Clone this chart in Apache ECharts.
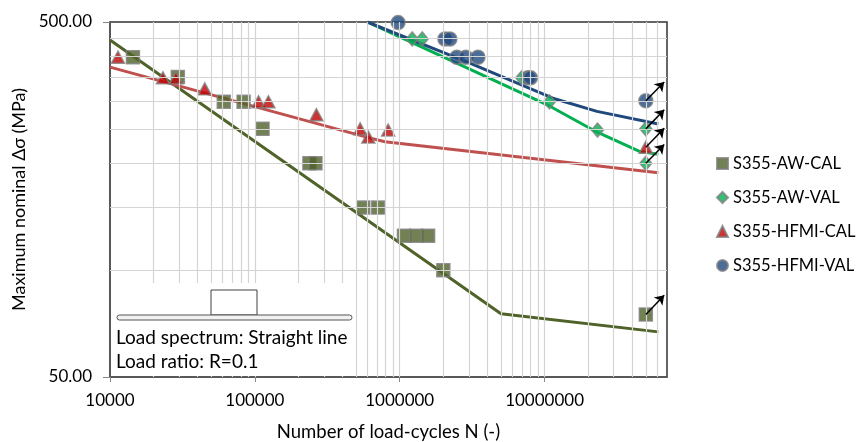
<!DOCTYPE html>
<html>
<head>
<meta charset="utf-8">
<script src="https://cdn.jsdelivr.net/npm/echarts@6/dist/echarts.min.js"></script>
<style>
  html, body { margin: 0; padding: 0; background: #fff; }
  #chart { width: 860px; height: 442px; }
</style>
</head>
<body>
<div id="chart"></div>
<script>
const FONT = 'Lato'

// axis ticks (labelled) and minor gridlines
const xTicks = [1e4, 1e5, 1e6, 1e7]
const yTicks = [50, 500]
const gridX = [2e4, 3e4, 4e4, 5e4, 6e4, 7e4, 8e4, 9e4, 1e5,
  2e5, 3e5, 4e5, 5e5, 6e5, 7e5, 8e5, 9e5, 1e6,
  2e6, 3e6, 4e6, 5e6, 6e6, 7e6, 8e6, 9e6, 1e7,
  2e7, 3e7, 4e7, 5e7, 6e7]
const gridY = [100, 150, 200, 250, 300, 350, 400, 450]

// test results [N, stress range]
const awCal = [[14400, 398], [29400, 350], [61000, 298], [83600, 298], [113000, 250],
  [238000, 200], [262000, 200], [560000, 150], [710000, 150],
  [1.07e6, 125], [1.3e6, 125], [1.57e6, 125], [2e6, 100], [5e7, 75]]
const awVal = [[1.22e6, 448], [1.43e6, 448], [6.95e6, 348], [1.08e7, 298],
  [2.32e7, 248], [5e7, 250], [5e7, 200]]
const hfmiCal = [[11350, 398], [23200, 348], [28500, 348], [45100, 324], [106000, 298],
  [124000, 298], [266000, 274], [533000, 250], [607000, 237], [832000, 248], [5e7, 222]]
const hfmiVal = [[9.75e5, 498], [2.05e6, 448], [2.22e6, 448], [2.48e6, 398], [2.86e6, 398],
  [3.47e6, 398], [7.66e6, 348], [8.0e6, 348], [5e7, 300]]

// calculated curves
const awCalLine = [[1e4, 445], [5e6, 75.4], [6.1e7, 67]]
const awValLine = [[6e5, 500], [7.33e5, 481], [1.08e7, 290], [2.29e7, 245], [4.52e7, 216], [6.1e7, 212]]
const hfmiCalLine = [[1e4, 373], [5.9e5, 237], [7.9e5, 230], [6.1e7, 188]]
const hfmiValLine = [[5.97e5, 500], [3.05e6, 383], [1.14e7, 305], [2.3e7, 280], [6.1e7, 258]]

// run-outs: from point to arrow tip
const runouts = [
  [[5e7, 300], [6.7e7, 339]],
  [[5e7, 250], [6.7e7, 283]],
  [[5e7, 222], [6.7e7, 251]],
  [[5e7, 200], [6.7e7, 226]],
  [[5e7, 75], [6.7e7, 85]]
]

const names = ['S355-AW-CAL', 'S355-AW-VAL', 'S355-HFMI-CAL', 'S355-HFMI-VAL']

const chart = echarts.init(document.getElementById('chart'))

const pointStyle = color => ({
  color,
  borderColor: '#808080',
  borderWidth: 1.5
})

const curve = (data, color) => ({
  type: 'line',
  data,
  symbol: 'none',
  z: 2,
  lineStyle: {color, width: 3},
  silent: true
})

const option = {
  animation: false,
  textStyle: {fontFamily: FONT},
  grid: {
    left: 110,
    top: 22,
    right: 193,
    bottom: 65,
    outerBoundsMode: 'none',
    show: true,
    borderColor: '#333',
    borderWidth: 1.5
  },
  legend: {
    data: names,
    orient: 'vertical',
    left: 711,
    top: 150,
    itemWidth: 11,
    itemHeight: 11,
    itemGap: 17,
    textStyle: {fontFamily: FONT, fontSize: 16.5, color: '#000'}
  },
  xAxis: {
    type: 'log',
    logBase: 10,
    min: 1e4,
    max: 7e7,
    name: 'Number of load-cycles N (-)',
    nameLocation: 'middle',
    nameGap: 46,
    nameTextStyle: {fontFamily: FONT, fontSize: 18.5, color: '#000'},
    axisLine: {lineStyle: {color: '#555', width: 1.5}},
    axisTick: {customValues: xTicks, length: 5, lineStyle: {color: '#888'}},
    axisLabel: {
      customValues: xTicks,
      margin: 15,
      fontFamily: FONT,
      fontSize: 17,
      color: '#000',
      formatter: v => String(Math.round(v))
    },
    splitLine: {show: false}
  },
  yAxis: {
    type: 'log',
    logBase: 10,
    min: 50,
    max: 500,
    name: 'Maximum nominal Δσ (MPa)',
    nameLocation: 'middle',
    nameGap: 78,
    nameTextStyle: {fontFamily: FONT, fontSize: 18, color: '#000'},
    axisLine: {show: true, lineStyle: {color: '#555', width: 1.5}},
    axisTick: {show: true, customValues: yTicks, length: 7, lineStyle: {color: '#888'}},
    axisLabel: {
      customValues: yTicks,
      margin: 18,
      fontFamily: FONT,
      fontSize: 17,
      color: '#000',
      formatter: v => Number(v).toFixed(2)
    },
    splitLine: {show: false}
  },
  graphic: [
    {
      type: 'group',
      z: 100,
      children: [
        {type: 'rect', shape: {x: 112, y: 283, width: 240, height: 93}, style: {fill: '#fff'}, z: 100},
        {type: 'rect', shape: {x: 211, y: 290, width: 46, height: 25}, style: {fill: '#fff', stroke: '#404040', lineWidth: 1}, z: 101},
        {type: 'rect', shape: {x: 117, y: 315, width: 235, height: 5, r: 2.5}, style: {fill: '#f2f2f2', stroke: '#555', lineWidth: 1}, z: 101},
        {type: 'text', x: 116, y: 338, style: {text: 'Load spectrum: Straight line', font: '19px ' + FONT, fill: '#000', verticalAlign: 'middle'}, z: 101},
        {type: 'text', x: 116, y: 362, style: {text: 'Load ratio: R=0.1', font: '19px ' + FONT, fill: '#000', verticalAlign: 'middle'}, z: 101}
      ]
    }
  ],
  series: [
    {
      name: 'grid',
      type: 'line',
      data: [],
      z: 1,
      silent: true,
      markLine: {
        silent: true,
        symbol: 'none',
        label: {show: false},
        lineStyle: {color: '#d4d4d4', width: 1.2, type: 'solid'},
        data: gridX.map(v => ({xAxis: v})).concat(gridY.map(v => ({yAxis: v})))
      }
    },
    curve(awCalLine, '#4f6228'),
    curve(awValLine, '#00b050'),
    curve(hfmiCalLine, '#c0504d'),
    curve(hfmiValLine, '#1f497d'),
    {
      name: names[0],
      type: 'scatter',
      data: awCal,
      symbol: 'rect',
      symbolSize: 13,
      z: 3,
      itemStyle: pointStyle('#4f6228')
    },
    {
      name: names[1],
      type: 'scatter',
      data: awVal,
      symbol: 'diamond',
      symbolSize: [12, 14],
      z: 3,
      itemStyle: pointStyle('#00b050')
    },
    {
      name: names[2],
      type: 'scatter',
      data: hfmiCal,
      symbol: 'triangle',
      symbolSize: [13, 12],
      z: 3,
      itemStyle: pointStyle('#c00000')
    },
    {
      name: names[3],
      type: 'scatter',
      data: hfmiVal,
      symbol: 'circle',
      symbolSize: 14,
      z: 3,
      itemStyle: pointStyle('#1f497d')
    },
    {
      name: 'runout',
      type: 'line',
      data: [],
      z: 4,
      silent: true,
      markLine: {
        silent: true,
        symbol: ['none', 'arrow'],
        symbolSize: 9,
        label: {show: false},
        lineStyle: {color: '#000', width: 1.5, type: 'solid'},
        data: runouts.map(r => [{coord: r[0]}, {coord: r[1]}])
      }
    }
  ]
}

chart.setOption(option)
</script>
</body>
</html>
